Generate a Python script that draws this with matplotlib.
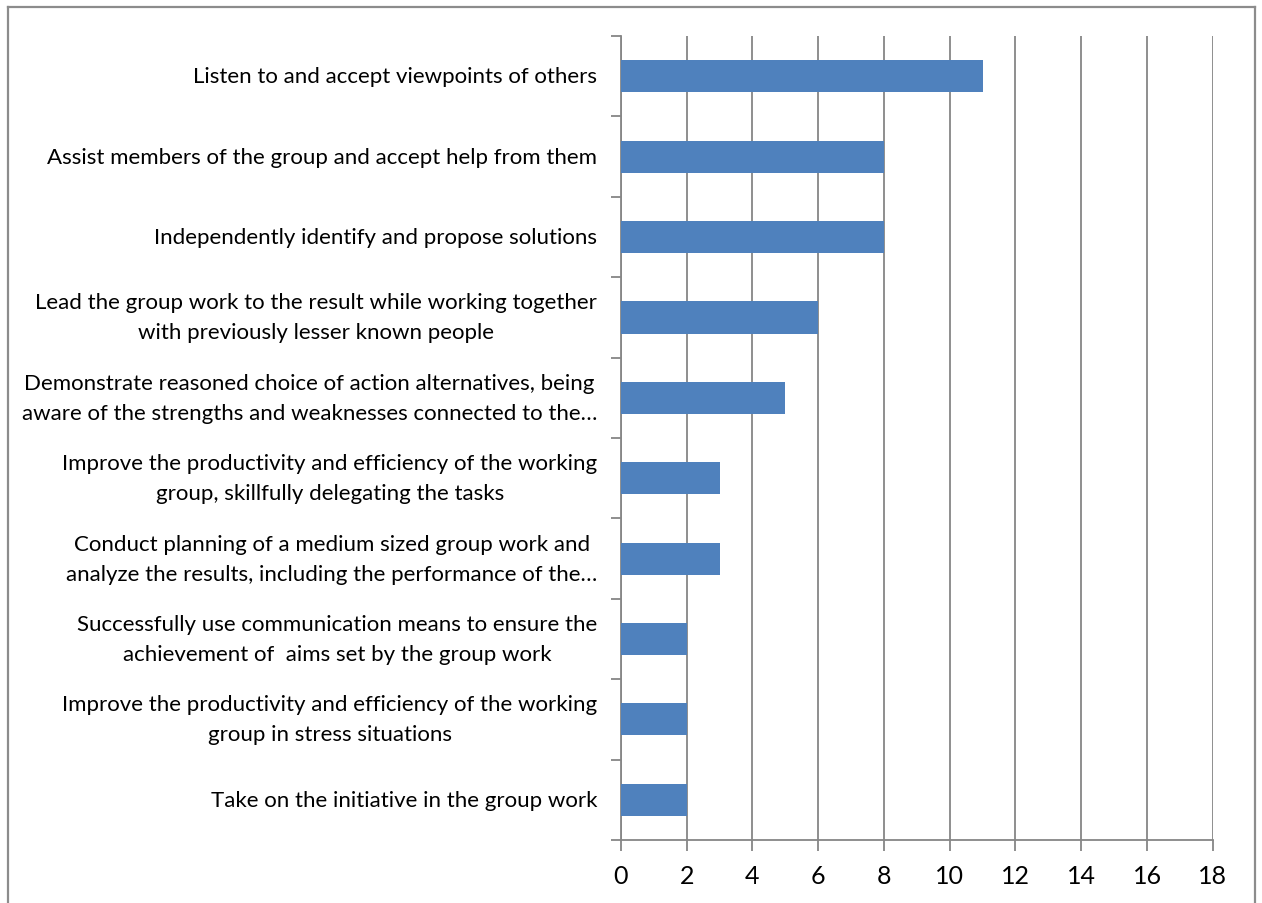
import matplotlib.pyplot as plt
from matplotlib.lines import Line2D

# skills, listed top to bottom, with number of responses
skills = [
    "Listen to and accept viewpoints of others",
    "Assist members of the group and accept help from them",
    "Independently identify and propose solutions",
    "Lead the group work to the result while working together\nwith previously lesser known people",
    "Demonstrate reasoned choice of action alternatives, being\naware of the strengths and weaknesses connected to the…",
    "Improve the productivity and efficiency of the working\ngroup, skillfully delegating the tasks",
    "Conduct planning of a medium sized group work and\nanalyze the results, including the performance of the…",
    "Successfully use communication means to ensure the\nachievement of  aims set by the group work",
    "Improve the productivity and efficiency of the working\ngroup in stress situations",
    "Take on the initiative in the group work",
]
counts = [11, 8, 8, 6, 5, 3, 3, 2, 2, 2]
x_ticks = [0, 2, 4, 6, 8, 10, 12, 14, 16, 18]

plt.rcParams['font.family'] = ['Lato', 'DejaVu Sans']
grey = '#868686'

fig = plt.figure(figsize=(12.62, 9.04), dpi=100)
ax = fig.add_axes([0.492, 0.0697, 0.469, 0.8893])

n = len(skills)
ypos = [n - 1 - i for i in range(n)]
ax.barh(ypos, counts, height=0.4, color='#4F81BD', zorder=3)

ax.set_xlim(0, 18)
ax.set_ylim(-0.5, n - 0.5)
ax.set_xticks(x_ticks)
ax.set_xticklabels([str(t) for t in x_ticks], fontsize=18)
ax.xaxis.grid(True, color=grey, linewidth=1.3, zorder=0)

# category boundaries get the tick marks, labels sit at the centres
ax.set_yticks([i - 0.5 for i in range(n + 1)])
ax.set_yticklabels([])
ax.tick_params(axis='y', length=7, color=grey, width=1.3)
ax.tick_params(axis='x', length=8, color=grey, width=1.3, pad=9)
for yp, s in zip(ypos, skills):
    ax.text(-0.72, yp, s, ha='right', va='center', multialignment='center',
            fontsize=16, transform=ax.transData, linespacing=1.62)

for side in ['top', 'right']:
    ax.spines[side].set_visible(False)
for side in ['left', 'bottom']:
    ax.spines[side].set_color(grey)
    ax.spines[side].set_linewidth(1.3)

# outer chart frame (open at the bottom)
fx0, fx1, fy1 = 8 / 1262, 1255 / 1262, 1 - 8 / 904
for xs, ys in [([fx0, fx0], [0, fy1]), ([fx0, fx1], [fy1, fy1]), ([fx1, fx1], [fy1, 0])]:
    fig.add_artist(Line2D(xs, ys, color='#8c8c8c', linewidth=1.6, transform=fig.transFigure))

fig.savefig('out.png', dpi=100)
